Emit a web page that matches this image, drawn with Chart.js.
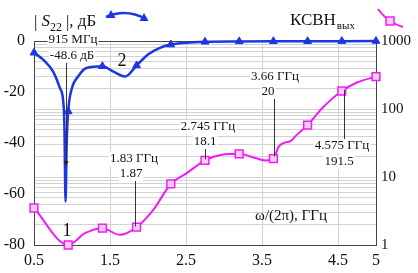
<!DOCTYPE html>
<html>
<head>
<meta charset="utf-8">
<script src="https://cdn.jsdelivr.net/npm/chart.js@4"></script>
<style>
  html, body { margin: 0; padding: 0; background: #fff; }
  #wrap { width: 418px; height: 273px; }
</style>
</head>
<body>
<div id="wrap"><canvas id="chart" width="418" height="273"></canvas></div>
<script>
// axis ticks
const xTicks = [0.5, 1.5, 2.5, 3.5, 4.5, 5];
const dbTicks = [-80, -60, -40, -20, 0];
const vswrTicks = [1, 10, 100, 1000];

// |S22|, dB
const s22Freq = [0.5, 0.62, 0.75, 0.84, 0.885, 0.9, 0.915, 0.93, 0.95, 1.0, 1.08, 1.19, 1.4, 1.54, 1.7, 1.85, 2.0, 2.15, 2.3, 2.5, 2.75, 3.2, 3.65, 4.1, 4.55, 5.0];
const s22Db = [-4.6, -7.3, -11.9, -18.4, -23.7, -33, -63, -40, -27.6, -18.4, -13.9, -10.6, -9.9, -11.9, -13.9, -9.6, -5.3, -2.8, -1.4, -0.7, -0.3, -0.15, -0.1, -0.1, -0.05, 0];
const s22Markers = [0.5, 0.95, 1.4, 1.85, 2.3, 2.75, 3.2, 3.65, 4.1, 4.55, 5.0];

// output VSWR
const vswrFreq = [0.5, 0.95, 1.17, 1.4, 1.63, 1.85, 2.07, 2.3, 2.51, 2.75, 2.97, 3.2, 3.41, 3.55, 3.65, 3.72, 3.8, 3.88, 3.96, 4.1, 4.3, 4.55, 4.75, 5.0];
const vswrVal = [3.5, 1.0, 1.49, 1.77, 1.41, 1.83, 3.29, 7.9, 11.4, 17.6, 21.3, 21.9, 19, 17.5, 18.6, 28, 32, 34, 42, 58, 105, 184, 245, 300];
const vswrMarkers = [0.5, 0.95, 1.4, 1.85, 2.3, 2.75, 3.2, 3.65, 4.1, 4.55, 5.0];

// annotated points
const noteFreq = [0.915, 1.83, 2.745, 3.66, 4.575];
const noteValue = [-48.6, 1.87, 18.1, 20, 191.5];
const noteTop = ['915 МГц', '1.83 ГГц', '2.745 ГГц', '3.66 ГГц', '4.575 ГГц'];
const noteBottom = ['-48.6 дБ', '1.87', '18.1', '20', '191.5'];

const BLUE = '#1c36e4';
const MAGENTA = '#f01ef0';
const SERIF = '"Liberation Serif", "DejaVu Serif", serif';

function isMarker(ctx, list) {
    return ctx.raw && list.includes(ctx.raw.x);
}

function points(xs, ys) {
    return xs.map((x, i) => ({ x: x, y: ys[i] }));
}

function decadeTicks() {
    const out = [];
    for (let d = 1; d < 1000; d *= 10)
        for (let m = 1; m < 10; m++) out.push({ value: m * d });
    out.push({ value: 1000 });
    return out;
}

// white-backed two-line label
function note(ctx, top, bottom, cx1, cy1, cx2, cy2) {
    ctx.font = '13px ' + SERIF;
    ctx.textAlign = 'center';
    ctx.textBaseline = 'middle';
    const w1 = ctx.measureText(top).width, w2 = ctx.measureText(bottom).width;
    ctx.fillStyle = '#fff';
    ctx.fillRect(cx1 - w1 / 2 - 1, cy1 - 7, w1 + 2, 14);
    ctx.fillRect(cx2 - w2 / 2 - 1, cy2 - 7, w2 + 2, 14);
    ctx.fillStyle = '#111';
    ctx.fillText(top, cx1, cy1);
    ctx.fillText(bottom, cx2, cy2);
}

function vline(ctx, x, y1, y2) {
    ctx.strokeStyle = '#333';
    ctx.lineWidth = 1;
    ctx.beginPath();
    ctx.moveTo(Math.round(x) + 0.5, y1);
    ctx.lineTo(Math.round(x) + 0.5, y2);
    ctx.stroke();
}

const frame = {
    id: 'frame',
    beforeDatasetsDraw(chart) {
        const a = chart.chartArea, ctx = chart.ctx;
        ctx.save();
        ctx.strokeStyle = '#444';
        ctx.lineWidth = 1;
        ctx.strokeRect(a.left + 0.5, a.top + 0.5, a.right - a.left, a.bottom - a.top);
        ctx.restore();
    },
    afterDraw(chart) {
        const ctx = chart.ctx, sx = chart.scales.x, sy = chart.scales.y, sv = chart.scales.y2;
        ctx.save();

        // annotations
        const px = noteFreq.map(f => sx.getPixelForValue(f));
        note(ctx, noteTop[0], noteBottom[0], 73, 40, 72, 56);
        const yArrow = sy.getPixelForValue(noteValue[0]);
        vline(ctx, px[0], 63, yArrow);
        ctx.fillStyle = '#222';
        ctx.beginPath();
        ctx.moveTo(px[0] - 2.5 + 0.5, yArrow - 4);
        ctx.lineTo(px[0] + 2.5 + 0.5, yArrow - 4);
        ctx.lineTo(px[0] + 0.5, yArrow + 1);
        ctx.closePath();
        ctx.fill();

        note(ctx, noteTop[1], noteBottom[1], 134, 159, 131, 174);
        vline(ctx, px[1], 181, sv.getPixelForValue(noteValue[1]));
        note(ctx, noteTop[2], noteBottom[2], 208, 127, 205, 142);
        vline(ctx, px[2], 149, sv.getPixelForValue(noteValue[2]));
        note(ctx, noteTop[3], noteBottom[3], 275, 77, 268, 92);
        vline(ctx, px[3], 99, sv.getPixelForValue(noteValue[3]));
        note(ctx, noteTop[4], noteBottom[4], 342, 146, 339, 162);
        vline(ctx, px[4], sv.getPixelForValue(noteValue[4]), 139);

        // curve numbers and axis title
        ctx.fillStyle = '#111';
        ctx.textAlign = 'center';
        ctx.textBaseline = 'middle';
        ctx.font = '18px ' + SERIF;
        ctx.fillText('1', 67, 231);
        ctx.fillText('2', 122, 61);
        ctx.font = '15px ' + SERIF;
        ctx.fillText('ω/(2π), ГГц', 291, 216);

        // |S22|, dB legend
        ctx.textAlign = 'left';
        ctx.textBaseline = 'alphabetic';
        let x = 34;
        ctx.font = '17px ' + SERIF;
        ctx.fillText('|', x, 27); x += ctx.measureText('|').width + 4;
        ctx.font = 'italic 17px ' + SERIF;
        ctx.fillText('S', x, 26); x += ctx.measureText('S').width;
        ctx.font = '12px ' + SERIF;
        ctx.fillText('22', x, 31); x += ctx.measureText('22').width + 4;
        ctx.font = '17px ' + SERIF;
        ctx.fillText('|', x, 27); x += ctx.measureText('|').width;
        ctx.fillText(', дБ', x, 26);

        ctx.strokeStyle = BLUE;
        ctx.lineWidth = 2.5;
        ctx.beginPath();
        ctx.moveTo(106, 17);
        ctx.quadraticCurveTo(126, 8, 146, 19);
        ctx.stroke();
        ctx.fillStyle = BLUE;
        [[111, 15], [144, 18]].forEach(p => {
            ctx.beginPath();
            ctx.moveTo(p[0], p[1] - 5);
            ctx.lineTo(p[0] + 4.5, p[1] + 3);
            ctx.lineTo(p[0] - 4.5, p[1] + 3);
            ctx.closePath();
            ctx.fill();
        });

        // VSWR legend
        ctx.fillStyle = '#111';
        ctx.font = '17px ' + SERIF;
        ctx.fillText('КСВН', 290, 25);
        const kw = ctx.measureText('КСВН').width;
        ctx.font = '11px ' + SERIF;
        ctx.fillText('вых', 290 + kw + 1, 29);

        ctx.strokeStyle = MAGENTA;
        ctx.lineWidth = 2;
        ctx.beginPath();
        ctx.moveTo(378, 9);
        ctx.quadraticCurveTo(385, 18, 390, 21);
        ctx.quadraticCurveTo(396, 25, 403, 27);
        ctx.stroke();
        ctx.fillStyle = '#fbd0fb';
        ctx.fillRect(386, 17, 8, 8);
        ctx.lineWidth = 1.5;
        ctx.strokeRect(386, 17, 8, 8);

        ctx.restore();
    }
};

new Chart(document.getElementById('chart'), {
    type: 'line',
    data: {
        datasets: [
            {
                label: '|S22|, дБ',
                data: points(s22Freq, s22Db),
                yAxisID: 'y',
                borderColor: BLUE,
                borderWidth: 2.5,
                cubicInterpolationMode: 'monotone',
                clip: false,
                pointStyle: 'triangle',
                pointRadius: ctx => isMarker(ctx, s22Markers) ? 4.5 : 0,
                pointBackgroundColor: BLUE,
                pointBorderColor: BLUE,
                pointBorderWidth: 1
            },
            {
                label: 'КСВН вых',
                data: points(vswrFreq, vswrVal),
                yAxisID: 'y2',
                borderColor: MAGENTA,
                borderWidth: 2,
                cubicInterpolationMode: 'monotone',
                clip: false,
                pointStyle: 'rect',
                pointRadius: ctx => isMarker(ctx, vswrMarkers) ? 5.5 : 0,
                pointBackgroundColor: '#fbd0fb',
                pointBorderColor: MAGENTA,
                pointBorderWidth: 1.5
            }
        ]
    },
    options: {
        responsive: false,
        animation: false,
        layout: { padding: { top: 41, left: 0, right: 0, bottom: 0 } },
        plugins: { legend: { display: false }, tooltip: { enabled: false } },
        scales: {
            x: {
                type: 'linear',
                min: 0.5,
                max: 5,
                afterBuildTicks: s => { s.ticks = xTicks.map(v => ({ value: v })); },
                afterFit: s => { s.height = 28; },
                grid: { color: '#d2d2d2', drawTicks: false },
                border: { display: false },
                ticks: {
                    autoSkip: false,
                    maxRotation: 0,
                    padding: 6,
                    color: '#111',
                    font: { family: SERIF, size: 16 },
                    callback: v => String(v)
                }
            },
            y: {
                position: 'left',
                min: -80,
                max: 0,
                afterBuildTicks: s => { s.ticks = dbTicks.map(v => ({ value: v })); },
                afterFit: s => { s.width = 34; },
                grid: { display: false, drawTicks: false },
                border: { display: false },
                ticks: {
                    autoSkip: false,
                    padding: 9,
                    color: '#111',
                    font: { family: SERIF, size: 16 },
                    callback: v => String(v)
                }
            },
            y2: {
                type: 'logarithmic',
                position: 'right',
                min: 1,
                max: 1000,
                afterBuildTicks: s => { s.ticks = decadeTicks(); },
                afterFit: s => { s.width = 42; },
                grid: { color: '#d2d2d2', drawTicks: false },
                border: { display: false },
                ticks: {
                    autoSkip: false,
                    padding: 5,
                    color: '#111',
                    font: { family: SERIF, size: 15 },
                    callback: v => vswrTicks.includes(v) ? String(v) : ''
                }
            }
        }
    },
    plugins: [frame]
});
</script>
</body>
</html>
